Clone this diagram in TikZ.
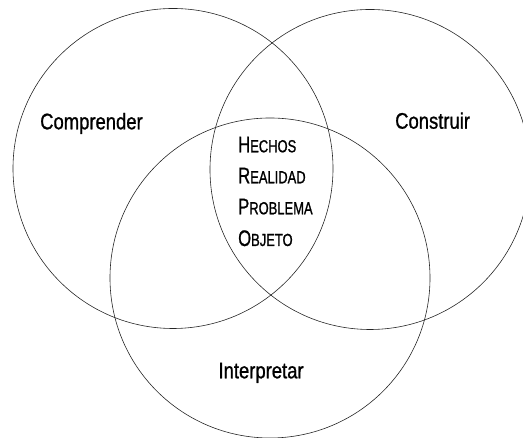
\documentclass[tikz,border=0pt]{standalone}
\usepackage{fontspec}
\setmainfont{Liberation Sans}[FakeStretch=0.82, FakeBold=0.9]
\newfontfamily\capsfont{Liberation Sans}[FakeStretch=0.74, FakeBold=0.9]
\usepackage{tikz}
\usetikzlibrary{positioning, calc}

% big first letter, then smaller capitals
\newcommand{\initcap}[2]{{\capsfont\fontsize{22.5}{22}\selectfont #1\fontsize{17.5}{17}\selectfont #2}}

\begin{document}
\begin{tikzpicture}[x=1pt, y=1pt]
      \useasboundingbox (0,0) rectangle (523,438);
      \tikzstyle{ring} = [draw=black!85, line width=0.6pt]
      \tikzstyle{word} = [inner sep=0pt, anchor=base west, font=\fontsize{22.5}{22}\selectfont]

      \begin{scope}
        \clip (0,0) rectangle (523,438);
        \coordinate (L) at (173,269.5);
        \coordinate (R) at (370,268.5);
        \coordinate (B) at (270,160);
        \draw[ring] (L) circle [radius=160pt];
        \draw[ring] (R) circle [radius=160pt];
        \draw[ring] (B) circle [radius=160pt];
      \end{scope}

      \node[word] (comprender) at (40,308.7) {Comprender};
      \node[word] (construir) at (395,309.3) {Construir};
      \node[word] (interpretar) at (218.3,59.7) {Interpretar};

      \foreach \first/\rest/\y/\name in {
        H/ECHOS/285.7/hechos,
        R/EALIDAD/254.7/realidad,
        P/ROBLEMA/223.7/problema,
        O/BJETO/192/objeto
      } {
        \node[word] (\name) at (238,\y) {\initcap{\first}{\rest}};
      }
    \end{tikzpicture}
\end{document}
